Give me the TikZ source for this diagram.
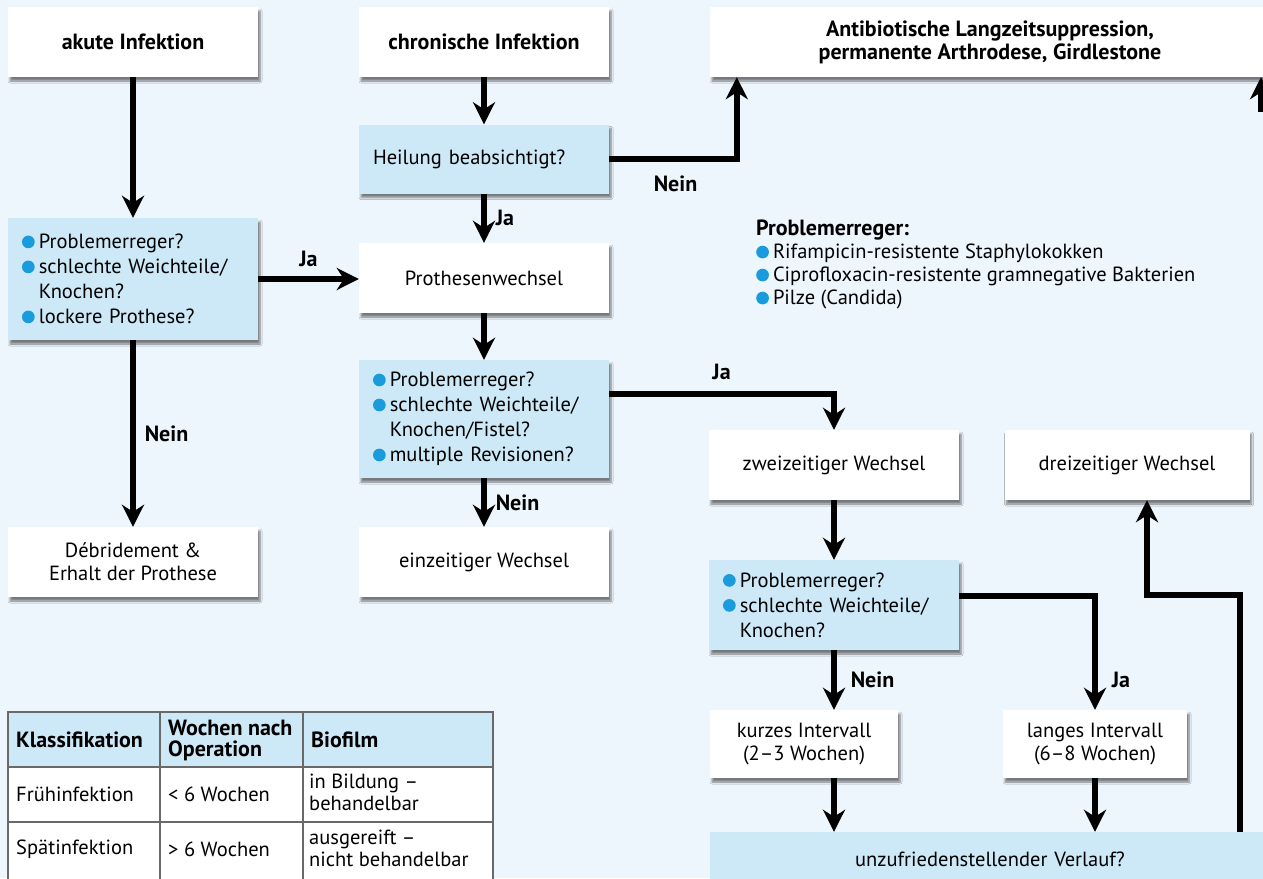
\documentclass[tikz,border=0pt]{standalone}
\usepackage{fontspec}
\setmainfont{PT Sans}
\usetikzlibrary{arrows.meta,shadows.blur}

\definecolor{cback}{RGB}{238,246,253}   %background
\definecolor{cbox}{RGB}{205,233,247}    %question boxes
\definecolor{cbullet}{RGB}{26,155,219}  %bullets
\definecolor{cgrid}{RGB}{105,105,105}   %table lines

\newcommand{\bul}{\tikz[baseline=0pt]\fill[cbullet] (0.31em,0.33em) circle (0.31em);\hspace{0.2em}}
\newcommand{\bulind}{\hspace{0.82em}}

\begin{document}
\begin{tikzpicture}[x=1pt,y=-1pt,
  font=\fontsize{20.5}{23}\selectfont,
  box/.style={fill=white,minimum width=250pt,minimum height=70pt,align=center,inner sep=0pt,
    blur shadow={shadow xshift=2pt,shadow yshift=-4pt,shadow blur steps=6,shadow opacity=50}},
  qbox/.style={box,fill=cbox,align=left,text width=222pt},
  bold/.style={font=\fontsize{22}{23}\selectfont\bfseries},
  pfeil/.style={line width=5.5pt,-{Stealth[length=22pt,width=22pt,inset=7pt]}},
  ja/.style={bold,inner sep=0pt}]
\useasboundingbox (0,0) rectangle (1263,878);
\clip (0,0) rectangle (1263,878);
\fill[cback] (0,0) rectangle (1263,878);

% boxes
\node[box,bold] (akut) at (133,42) {akute Infektion};
\node[box,bold] (chron) at (484,42) {chronische Infektion};
\node[box,bold,minimum width=560pt] (anti) at (990,42) {Antibiotische Langzeitsuppression,\\permanente Arthrodese, Girdlestone};
\node[qbox,minimum height=69pt] (heil) at (484,159) {Heilung beabsichtigt?};
\node[box] (wechsel) at (484,278) {Prothesenwechsel};
\node[qbox,minimum height=122pt,font=\fontsize{20.5}{25}\selectfont] (frage1) at (133,279)
  {\bul Problemerreger?\\\bul schlechte Weichteile/\\\bulind Knochen?\\\bul lockere Prothese?};
\node[qbox,minimum height=118pt,font=\fontsize{20.5}{25}\selectfont] (frage2) at (484,419)
  {\bul Problemerreger?\\\bul schlechte Weichteile/\\\bulind Knochen/Fistel?\\\bul multiple Revisionen?};
\node[box] (debr) at (133,562) {Débridement \&\\Erhalt der Prothese};
\node[box] (einz) at (484,562) {einzeitiger Wechsel};
\node[box] (zwei) at (834,465) {zweizeitiger Wechsel};
\node[box,minimum width=245pt] (drei) at (1127,465) {dreizeitiger Wechsel};
\node[qbox,minimum height=90pt,font=\fontsize{20.5}{25}\selectfont] (frage3) at (834,605)
  {\bul Problemerreger?\\\bul schlechte Weichteile/\\\bulind Knochen?};
\node[box,minimum width=188pt,minimum height=68pt] (kurz) at (804,744) {kurzes Intervall\\(2--3 Wochen)};
\node[box,minimum width=184pt,minimum height=68pt] (lang) at (1095,744) {langes Intervall\\(6--8 Wochen)};
\node[qbox,align=center,text width=540pt,minimum width=560pt,minimum height=54pt] (verlauf) at (990,859) {unzufriedenstellender Verlauf?};

% note
\node[align=left,anchor=north west,inner sep=0pt,font=\fontsize{20.5}{23}\selectfont] (erreger) at (756,220)
  {{\fontsize{22}{23}\selectfont\bfseries Problemerreger:}\\\bul Rifampicin-resistente Staphylokokken\\\bul Ciprofloxacin-resistente gramnegative Bakterien\\\bul Pilze (Candida)};

% arrows
\coordinate (knick) at (1240,595);
\coordinate (rand) at (1261,112);
\draw[pfeil] (akut) -- (frage1);
\draw[pfeil] (frage1.east) -- node[ja,above=9pt]{Ja} (frage1.east -| wechsel.west);
\draw[pfeil] (frage1) -- node[ja,right=9pt]{Nein} (debr);
\draw[pfeil] (chron) -- (heil);
\draw[pfeil] (heil.east) -| node[ja,pos=0.26,below=14pt]{Nein} ([xshift=27pt]anti.south west);
\draw[pfeil] (heil) -- node[ja,right=9pt]{Ja} (wechsel);
\draw[pfeil] (wechsel) -- (frage2);
\draw[pfeil] ([yshift=25pt]frage2.east) -| node[ja,pos=0.25,above=11pt]{Ja} (zwei.north);
\draw[pfeil] (frage2) -- node[ja,right=9pt]{Nein} (einz);
\draw[pfeil] (zwei) -- (frage3);
\draw[pfeil] ([yshift=9pt]frage3.east) -| node[ja,pos=0.87,right=14pt]{Ja} (lang.north);
\draw[pfeil] (frage3.south) -- node[ja,pos=0.5,right=14pt]{Nein} (frage3.south |- kurz.north);
\draw[pfeil] (frage3.south |- kurz.south) -- (frage3.south |- verlauf.north);
\draw[pfeil] (lang) -- (lang |- verlauf.north);
\draw[pfeil] (verlauf.north -| knick) -- (knick) -| ([xshift=20pt]drei.south);
\draw[pfeil] (rand) -- (rand |- anti.south);

% table
\fill[cbox] (8,712) rectangle (493,767);
\fill[white] (8,767) rectangle (493,890);
\draw[cgrid,line width=1.2pt] (8,712) rectangle (493,890)
  (8,767) -- (493,767) (8,822) -- (493,822)
  (160,712) -- (160,890) (303,712) -- (303,890);
\begin{scope}[every node/.style={anchor=west,inner sep=0pt,align=left,font=\fontsize{20.5}{22}\selectfont}]
\node[bold] (k1) at (16,740) {Klassifikation};
\node[font=\fontsize{22}{21}\selectfont\bfseries] (k2) at (168,740) {Wochen nach\\Operation};
\node[bold] (k3) at (311,740) {Biofilm};
\node (r11) at (16,794) {Frühinfektion};
\node (r12) at (168,794) {< 6 Wochen};
\node (r13) at (309,792) {in Bildung --\\behandelbar};
\node (r21) at (16,849) {Spätinfektion};
\node (r22) at (168,849) {> 6 Wochen};
\node (r23) at (309,848) {ausgereift --\\nicht behandelbar};
\end{scope}
\end{tikzpicture}
\end{document}
